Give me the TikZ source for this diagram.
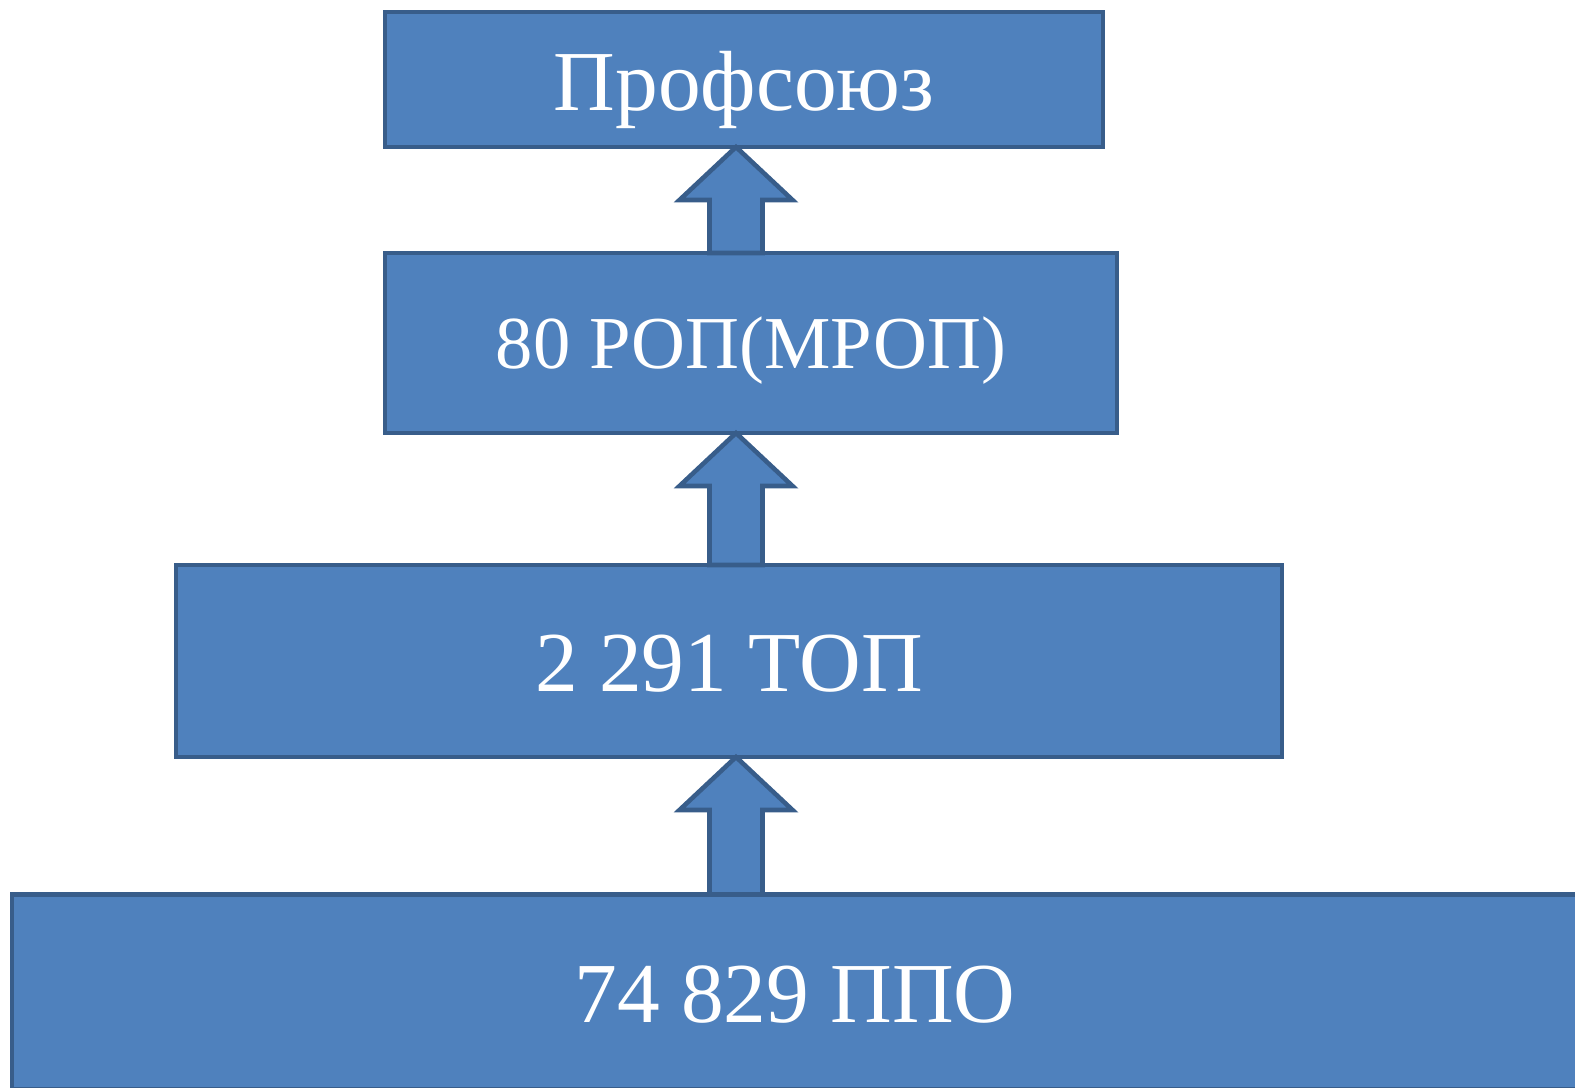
\documentclass[tikz,border=0pt]{standalone}
\usepackage{fontspec}
\setmainfont{Liberation Serif}
\usetikzlibrary{calc}
\definecolor{boxblue}{HTML}{4F81BD}
\definecolor{boxedge}{HTML}{385D8A}
\begin{document}
\begin{tikzpicture}[
     x=0.02cm, y=-0.02cm,
     % define styles
     level/.style={
         draw=boxedge,
         fill=boxblue,
         line width=2.6pt,
         rectangle,
         outer sep=0pt,
         inner sep=0pt,
         text=white,
         text height=35pt,
         text depth=0pt,
         font=\fontsize{48.6}{58}\selectfont
     },
     small level/.style={
         level,
         text height=29pt,
         font=\fontsize{42.5}{51}\selectfont
     },
     uparrow/.style={
         draw=boxedge,
         fill=boxblue,
         line width=2.6pt,
         line join=miter
     }
]
\useasboundingbox (0,0) rectangle (1575,1088);
\clip (0,0) rectangle (1575,1088);
% levels, top to bottom
\node[level, minimum width=14.36cm, minimum height=2.7cm] (union) at (744,79.5) {Профсоюз};
\node[small level, minimum width=14.64cm, minimum height=3.6cm] (region) at (751,343) {80 РОП(МРОП)};
\node[level, minimum width=22.12cm, minimum height=3.84cm] (territory) at (729,661) {2 291 ТОП};
\node[level, minimum width=31.32cm, minimum height=3.9cm] (primary) at (795,992) {74 829 ППО};
% block arrows between levels
\coordinate (axis) at (736,0);
\foreach \low/\high in {region/union, territory/region, primary/territory}
{
    \draw[uparrow] ($(axis |- \low.north)+(-26.5,0)$) -- ($(axis |- \high.south)+(-26.5,53)$)
        -- ($(axis |- \high.south)+(-56.5,53)$) -- (axis |- \high.south)
        -- ($(axis |- \high.south)+(56.5,53)$) -- ($(axis |- \high.south)+(26.5,53)$)
        -- ($(axis |- \low.north)+(26.5,0)$) -- cycle;
}
\end{tikzpicture}
\end{document}
